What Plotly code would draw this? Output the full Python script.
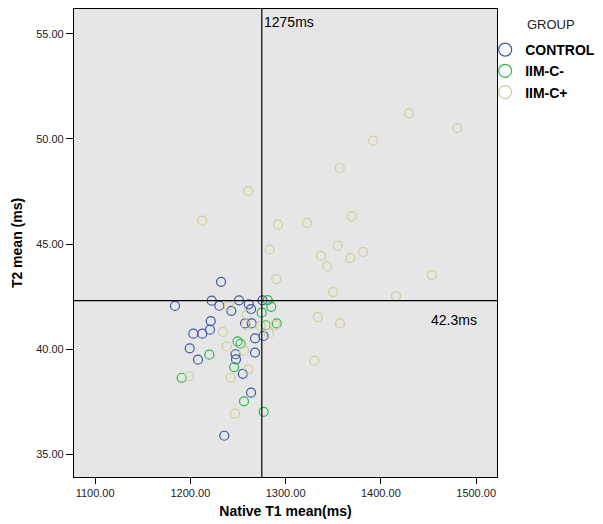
import plotly.graph_objects as go

# ---- data ----
control_t1 = [1232.2, 1183.9, 1222.4, 1230.4, 1251.1, 1243.0, 1261.3, 1263.7, 1275.7,
              1221.4, 1203.1, 1212.5, 1220.6, 1199.3, 1208.0, 1257.4, 1264.4, 1267.9,
              1276.9, 1247.4, 1247.9, 1267.9, 1255.0, 1263.7, 1235.6]
control_t2 = [43.20, 42.05, 42.30, 42.06, 42.32, 41.82, 42.13, 41.90, 42.32,
              41.33, 40.73, 40.73, 40.92, 40.03, 39.49, 41.22, 41.22, 40.51,
              40.62, 39.75, 39.51, 39.83, 38.82, 37.92, 35.87]

iimcneg_t1 = [1281.2, 1284.9, 1274.9, 1279.1, 1290.7, 1249.5, 1252.7, 1219.9, 1246.0,
              1190.9, 1256.3, 1277.0]
iimcneg_t2 = [42.33, 42.01, 41.73, 41.13, 41.22, 40.36, 40.25, 39.73, 39.14,
              38.63, 37.51, 37.01]

iimcpos_t1 = [1429.6, 1480.3, 1391.8, 1356.8, 1369.4, 1292.0, 1322.5, 1283.3, 1354.7,
              1337.2, 1381.3, 1367.9, 1343.5, 1290.2, 1453.4, 1349.8, 1415.9, 1333.7,
              1357.1, 1330.1, 1260.8, 1212.5, 1240.3, 1259.2, 1258.4, 1273.9, 1288.9,
              1282.6, 1234.0, 1238.2, 1256.3, 1260.8, 1242.4, 1198.9, 1246.9]
iimcpos_t2 = [51.22, 50.52, 49.92, 48.62, 46.32, 45.92, 46.01, 44.73, 44.92,
              44.43, 44.62, 44.33, 43.93, 43.33, 43.52, 42.71, 42.52, 41.52,
              41.22, 39.43, 47.52, 46.11, 42.05, 41.64, 41.12, 41.10, 41.14,
              40.74, 40.82, 40.12, 39.92, 39.03, 38.63, 38.71, 36.92]

groups = ["CONTROL", "IIM-C-", "IIM-C+"]
colors = ["#3E58AC", "#2EB848", "#D3CE97"]
legend_title = "GROUP"
ref_t1 = 1275
ref_t2 = 42.3
x_ticks = [1100, 1200, 1300, 1400, 1500]
y_ticks = [35, 40, 45, 50, 55]

FONT = "Liberation Sans, Arial, sans-serif"

fig = go.Figure()
for name, xs, ys, col in zip(groups,
                             [control_t1, iimcneg_t1, iimcpos_t1],
                             [control_t2, iimcneg_t2, iimcpos_t2],
                             colors):
    fig.add_trace(go.Scatter(
        x=xs, y=ys, mode="markers", name=name, showlegend=False, legendgroup=name,
        marker=dict(symbol="circle-open", size=9, color=col, line=dict(width=1.2, color=col)),
    ))
    # legend-only entry with a larger symbol, as in the reference legend
    fig.add_trace(go.Scatter(
        x=[None], y=[None], mode="markers", name=name, legendgroup=name,
        marker=dict(symbol="circle-open", size=13, color=col, line=dict(width=1.2, color=col)),
    ))

fig.add_shape(type="line", xref="x", yref="paper", x0=ref_t1, x1=ref_t1, y0=0, y1=1,
              line=dict(color="black", width=1.2))
fig.add_shape(type="line", xref="paper", yref="y", x0=0, x1=1, y0=ref_t2, y1=ref_t2,
              line=dict(color="black", width=1.2))

fig.add_annotation(x=ref_t1, y=1, xref="x", yref="paper", text=f"{ref_t1}ms",
                   showarrow=False, xanchor="left", yanchor="top", xshift=0, yshift=-3,
                   font=dict(family=FONT, size=14, color="black"))
fig.add_annotation(x=1451, y=ref_t2, xref="x", yref="y", text=f"{ref_t2}ms",
                   showarrow=False, xanchor="left", yanchor="top", yshift=-9,
                   font=dict(family=FONT, size=14, color="black"))
# legend heading
fig.add_annotation(x=1.1277, y=0.966, xref="paper", yref="paper", text=legend_title,
                   showarrow=False, xanchor="center", yanchor="middle",
                   font=dict(family=FONT, size=13, color="#222222"))

fig.update_layout(
    width=603, height=524,
    margin=dict(l=74, r=106, t=9, b=47, autoexpand=False),
    paper_bgcolor="white",
    plot_bgcolor="#E6E6E6",
    font=dict(family=FONT, size=11, color="#222222"),
    showlegend=True,
    legend=dict(
        x=0.972, xanchor="left", y=0.9465, yanchor="top",
        bgcolor="rgba(0,0,0,0)",
        font=dict(family=FONT, size=14, color="black", weight="bold"),
        itemwidth=30,
        tracegroupgap=0,
    ),
    xaxis=dict(
        range=[1077.85, 1521.9], tickvals=x_ticks, tickformat=".2f",
        showgrid=False, zeroline=False,
        showline=True, linecolor="black", linewidth=1.2, mirror=True,
        ticks="outside", ticklen=6, tickcolor="black", tickwidth=1,
        tickfont=dict(family=FONT, size=11, color="#222222"),
        title=dict(text="Native T1 mean(ms)", standoff=7,
                   font=dict(family=FONT, size=14, color="black", weight="bold")),
    ),
    yaxis=dict(
        range=[33.905, 56.19], tickvals=y_ticks, tickformat=".2f",
        showgrid=False, zeroline=False,
        showline=True, linecolor="black", linewidth=1.2, mirror=True,
        ticks="outside", ticklen=7, tickcolor="black", tickwidth=1,
        tickfont=dict(family=FONT, size=11, color="#222222"),
        title=dict(text="T2 mean (ms)", standoff=10,
                   font=dict(family=FONT, size=14, color="black", weight="bold")),
    ),
)

fig.write_html("out.html", config={"displayModeBar": False},
               post_script="document.body.style.margin='0';")
